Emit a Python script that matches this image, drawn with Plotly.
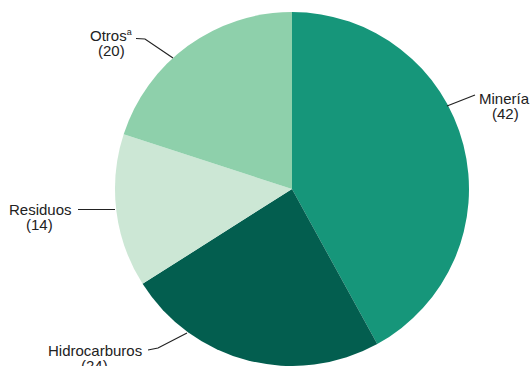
import plotly.graph_objects as go

# Data
categories = ["Minería", "Hidrocarburos", "Residuos", "Otros"]
label_text = ["Minería", "Hidrocarburos", "Residuos", "Otros<sup><span style='font-size:9px'>a</span></sup>"]
values = [42, 24, 14, 20]
colors = ["#16967A", "#035E4F", "#CCE7D5", "#8ED0AB"]

W, H = 531, 366
FONT = "Liberation Sans, Arial, Helvetica, sans-serif"

# Label placement (pixels): name centre, value centre, leader polyline
label_pos = {
    "Minería": dict(name=(504, 98), val=(505, 113), line=[(447, 106), (475, 95)]),
    "Hidrocarburos": dict(name=(95, 350), val=(94, 365), line=[(187, 333), (158, 348), (148, 350)]),
    "Residuos": dict(name=(40, 209), val=(39, 224), line=[(115, 209.5), (78, 209.5)]),
    "Otros": dict(name=(111, 35), val=(111, 50), line=[(173, 58), (145, 39), (136, 38.5)]),
}

def px(x):
    return x / W

def py(y):
    return 1 - y / H

fig = go.Figure(go.Pie(
    labels=categories,
    values=values,
    marker=dict(colors=colors, line=dict(width=0)),
    sort=False,
    direction="clockwise",
    rotation=0,
    textinfo="none",
    hoverinfo="label+value",
    domain=dict(x=[114 / W, 470 / W], y=[0, 1 - 12 / H]),
    showlegend=False,
))

annotations = []
shapes = []
for cat, txt, v in zip(categories, label_text, values):
    p = label_pos[cat]
    annotations.append(dict(x=px(p["name"][0]), y=py(p["name"][1]), xref="paper", yref="paper",
                            text=txt, showarrow=False, xanchor="center", yanchor="middle",
                            font=dict(family=FONT, size=15, color="#222222")))
    annotations.append(dict(x=px(p["val"][0]), y=py(p["val"][1]), xref="paper", yref="paper",
                            text=f"({v})", showarrow=False, xanchor="center", yanchor="middle",
                            font=dict(family=FONT, size=15, color="#222222")))
    pts = p["line"]
    path = "M " + " L ".join(f"{px(x)},{py(y)}" for x, y in pts)
    shapes.append(dict(type="path", xref="paper", yref="paper", path=path,
                       line=dict(color="#222222", width=1.2)))

fig.update_layout(
    width=W, height=H,
    margin=dict(l=0, r=0, t=0, b=0),
    paper_bgcolor="white",
    plot_bgcolor="white",
    annotations=annotations,
    shapes=shapes,
)

fig.write_html("out.html",
               config={"displayModeBar": False},
               post_script="document.body.style.margin='0';document.body.style.overflow='hidden';")
